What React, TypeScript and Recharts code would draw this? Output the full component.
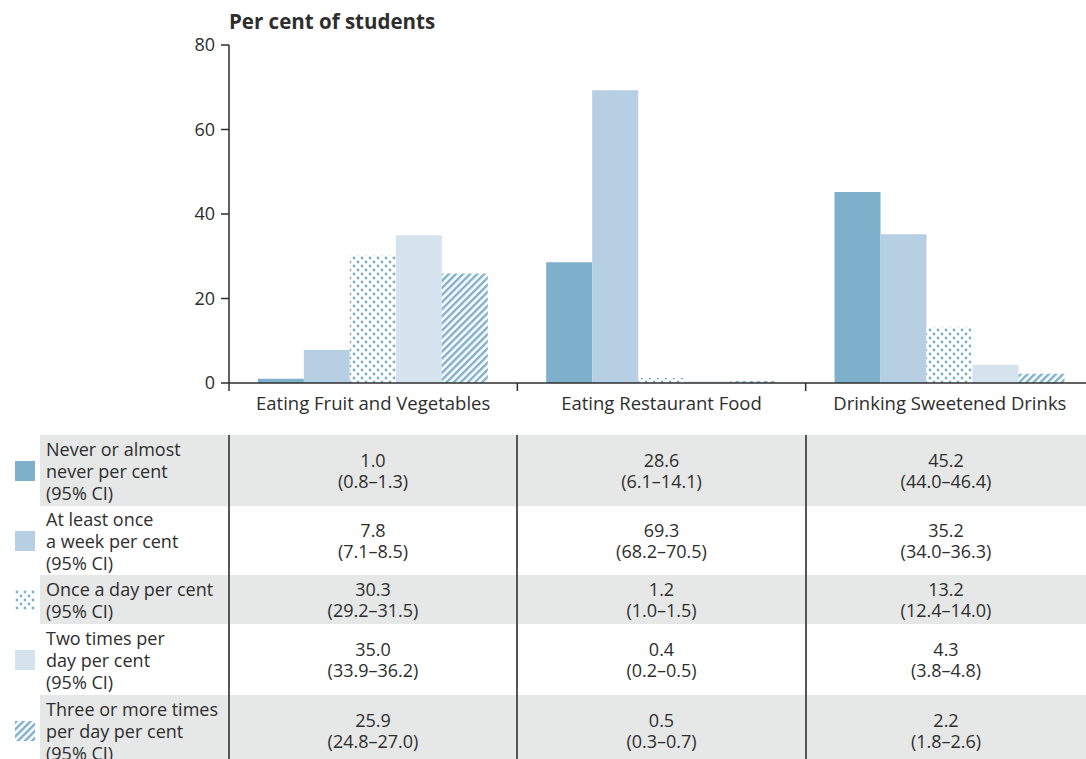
import React from 'react';
import { BarChart, Bar, XAxis, YAxis } from 'recharts';

const categories = ['Eating Fruit and Vegetables', 'Eating Restaurant Food', 'Drinking Sweetened Drinks'];

const neverValues = [1.0, 28.6, 45.2];
const weeklyValues = [7.8, 69.3, 35.2];
const dailyValues = [30.3, 1.2, 13.2];
const twiceValues = [35.0, 0.4, 4.3];
const threePlusValues = [25.9, 0.5, 2.2];

const neverCI = ['0.8–1.3', '6.1–14.1', '44.0–46.4'];
const weeklyCI = ['7.1–8.5', '68.2–70.5', '34.0–36.3'];
const dailyCI = ['29.2–31.5', '1.0–1.5', '12.4–14.0'];
const twiceCI = ['33.9–36.2', '0.2–0.5', '3.8–4.8'];
const threePlusCI = ['24.8–27.0', '0.3–0.7', '1.8–2.6'];

const yTicks = [0, 20, 40, 60, 80];

const DARK = '#7eafcb';
const MID = '#b7cfe2';
const LIGHT = '#d4e3ed';
const ROW_GRAY = '#e6e7e7';
const TEXT = '#2e2e2e';
const FONT = '"Open Sans", Lato, sans-serif';

const seriesDefs = [
  { key: 'never', fill: DARK, label: ['Never or almost', 'never per cent', '(95% CI)'], values: neverValues, ci: neverCI },
  { key: 'weekly', fill: MID, label: ['At least once', 'a week per cent', '(95% CI)'], values: weeklyValues, ci: weeklyCI },
  { key: 'daily', fill: 'url(#dots)', label: ['Once a day per cent', '(95% CI)'], values: dailyValues, ci: dailyCI },
  { key: 'twice', fill: LIGHT, label: ['Two times per', 'day per cent', '(95% CI)'], values: twiceValues, ci: twiceCI },
  { key: 'threePlus', fill: 'url(#hatch)', label: ['Three or more times', 'per day per cent', '(95% CI)'], values: threePlusValues, ci: threePlusCI },
];

const data = categories.map((name, i) => {
  const row: Record<string, string | number> = { name };
  seriesDefs.forEach(s => { row[s.key] = s.values[i]; });
  return row;
});

// table rows: top + height, grey rows alternate
const rowTops = [435, 506, 575, 624, 695];
const rowHeights = [71, 69, 49, 71, 71];
const colEdges = [229, 517, 806, 1086];

const CHART_W = 1094;
const PLOT_LEFT = 229;
const BAND = (CHART_W - PLOT_LEFT) / categories.length;

function PatternDefs({ suffix = '' }: { suffix?: string }) {
  return (
    <defs>
      <pattern id={`dots${suffix}`} width="8" height="8" patternUnits="userSpaceOnUse">
        <rect width="8" height="8" fill="#fff" />
        <circle cx="2" cy="2" r="1.4" fill={DARK} />
        <circle cx="6" cy="6" r="1.4" fill={DARK} />
      </pattern>
      <pattern id={`hatch${suffix}`} width="5" height="5" patternUnits="userSpaceOnUse" patternTransform="rotate(45)">
        <rect width="5" height="5" fill="#fff" />
        <rect x="0" y="0" width="2.4" height="5" fill={DARK} />
      </pattern>
    </defs>
  );
}

const CategoryTick = (props: any) => {
  const { x, y, payload } = props;
  return (
    <g>
      <line x1={x - BAND / 2} y1={y - 8} x2={x - BAND / 2} y2={y} stroke={TEXT} strokeWidth={1.5} />
      <text x={x} y={y + 19} textAnchor="middle" fill={TEXT} fontSize={18.5} fontFamily={FONT}>
        {payload.value}
      </text>
    </g>
  );
};

function LegendIcon({ fill, idx }: { fill: string; idx: number }) {
  const f = fill.startsWith('url') ? fill.replace(')', `-i${idx})`) : fill;
  return (
    <svg width={20} height={20} style={{ position: 'absolute', left: 15, top: '50%', marginTop: -10 }}>
      <PatternDefs suffix={`-i${idx}`} />
      <rect width={20} height={20} fill={f} />
    </svg>
  );
}

export default function App() {
  return (
    <div style={{ position: 'absolute', left: 0, top: 0, width: 1086, height: 759, overflow: 'hidden', background: '#fff', fontFamily: FONT, color: TEXT }}>
      <div style={{ position: 'absolute', left: 229, top: 6, fontSize: 20.5, fontWeight: 700, color: TEXT, lineHeight: '30px' }}>
        Per cent of students
      </div>
      <div style={{ position: 'absolute', left: 0, top: 0 }}>
        <BarChart width={CHART_W} height={425} data={data} margin={{ top: 45, right: 0, bottom: 0, left: 0 }} barCategoryGap="10%" barGap={0}>
          <PatternDefs />
          <XAxis dataKey="name" height={42} tick={<CategoryTick />} tickLine={false} axisLine={{ stroke: TEXT, strokeWidth: 1.5 }} interval={0} />
          <YAxis width={229} domain={[0, 80]} ticks={yTicks} tickSize={8} tickMargin={6}
            tick={{ fill: TEXT, fontSize: 18, fontFamily: FONT }}
            tickLine={{ stroke: TEXT, strokeWidth: 1.5 }} axisLine={{ stroke: TEXT, strokeWidth: 1.5 }} />
          {seriesDefs.map(s => (
            <Bar key={s.key} dataKey={s.key} fill={s.fill} isAnimationActive={false} />
          ))}
        </BarChart>
      </div>

      {seriesDefs.map((s, r) => (
        <div key={s.key} style={{ position: 'absolute', left: 0, top: rowTops[r], width: 1086, height: rowHeights[r] }}>
          {r % 2 === 0 && (
            <div style={{ position: 'absolute', left: 40, top: 0, right: 0, bottom: 0, background: ROW_GRAY }} />
          )}
          <LegendIcon fill={s.fill} idx={r} />
          <div style={{ position: 'absolute', left: 46, top: 0, height: '100%', display: 'flex', flexDirection: 'column', justifyContent: 'center', fontSize: 18, lineHeight: '22px', whiteSpace: 'nowrap' }}>
            {s.label.map(l => <div key={l}>{l}</div>)}
          </div>
          {categories.map((c, i) => (
            <div key={c} style={{ position: 'absolute', left: colEdges[i], width: colEdges[i + 1] - colEdges[i], top: 0, height: '100%', display: 'flex', flexDirection: 'column', justifyContent: 'center', alignItems: 'center', fontSize: 18, lineHeight: '21px' }}>
              <div>{s.values[i].toFixed(1)}</div>
              <div>({s.ci[i]})</div>
            </div>
          ))}
        </div>
      ))}

      {colEdges.slice(0, 3).map(x => (
        <div key={x} style={{ position: 'absolute', left: x - 0.75, top: 435, width: 1.5, height: 330, background: '#555' }} />
      ))}
    </div>
  );
}
